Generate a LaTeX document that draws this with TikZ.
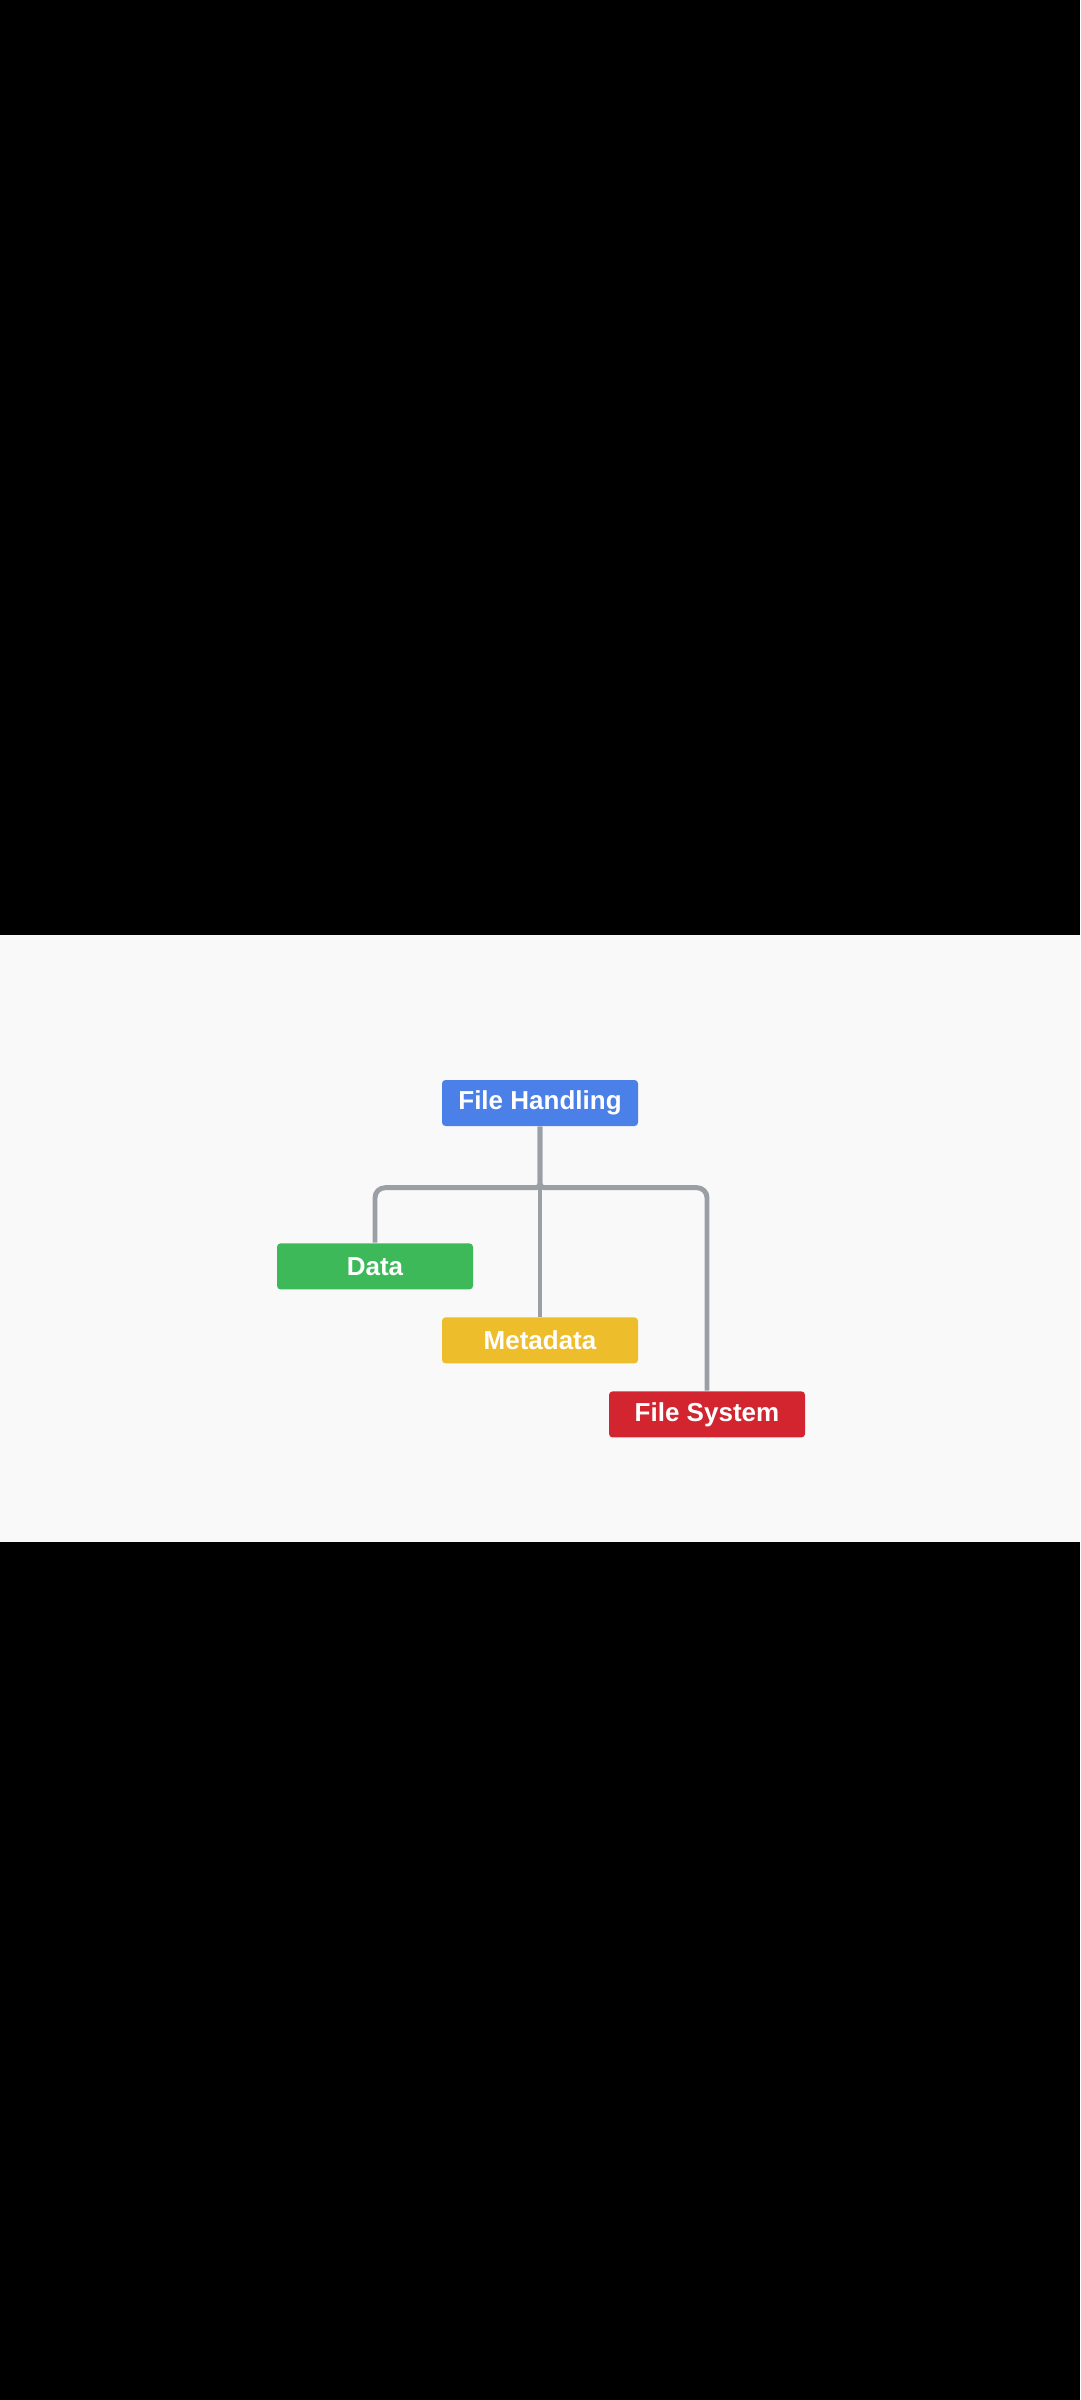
\documentclass[tikz,border=0pt]{standalone}
\usepackage{fontspec}
\setmainfont{Liberation Sans}
\usetikzlibrary{positioning}
\definecolor{fhblue}{HTML}{4A80E8}
\definecolor{dagreen}{HTML}{3DB95A}
\definecolor{mdyellow}{HTML}{EEBD2B}
\definecolor{fsred}{HTML}{D2252F}
\definecolor{linkgray}{HTML}{9A9FA5}
\definecolor{bgpaper}{HTML}{F9F9F9}

\begin{document}
\begin{tikzpicture}[
        font=\fontsize{7.4}{8}\selectfont\bfseries,
        box/.style={text=white, rounded corners=1pt, minimum width=1.96cm,
                    minimum height=0.46cm, inner sep=0pt, align=center},
        link/.style={linkgray, line width=1.4pt},
      ]
        % screen and light band
        \fill[black] (0,0) rectangle (10.8,-24);
        \fill[bgpaper] (0,-9.35) rectangle (10.8,-15.42);
        \node[box, fill=fhblue] (fh) at (5.40,-11.03) {File Handling};
        \node[box, fill=mdyellow, below=1.90cm of fh] (meta) {Metadata};
        \node[box, fill=dagreen] (data) at ([xshift=-1.65cm, yshift=0.74cm]meta) {Data};
        \node[box, fill=fsred] (fs) at ([xshift=1.67cm, yshift=-0.74cm]meta) {File System};
        \draw[link, rounded corners=0.04cm] (fh.south) -- ++(0,-0.61)
              [rounded corners=0.1cm] -| (data.north);
        \draw[link, rounded corners=0.04cm] (fh.south) -- ++(0,-0.61)
              [rounded corners=0.1cm] -| (fs.north);
        \draw[link] (fh.south) -- (meta.north);
      \end{tikzpicture}
\end{document}
